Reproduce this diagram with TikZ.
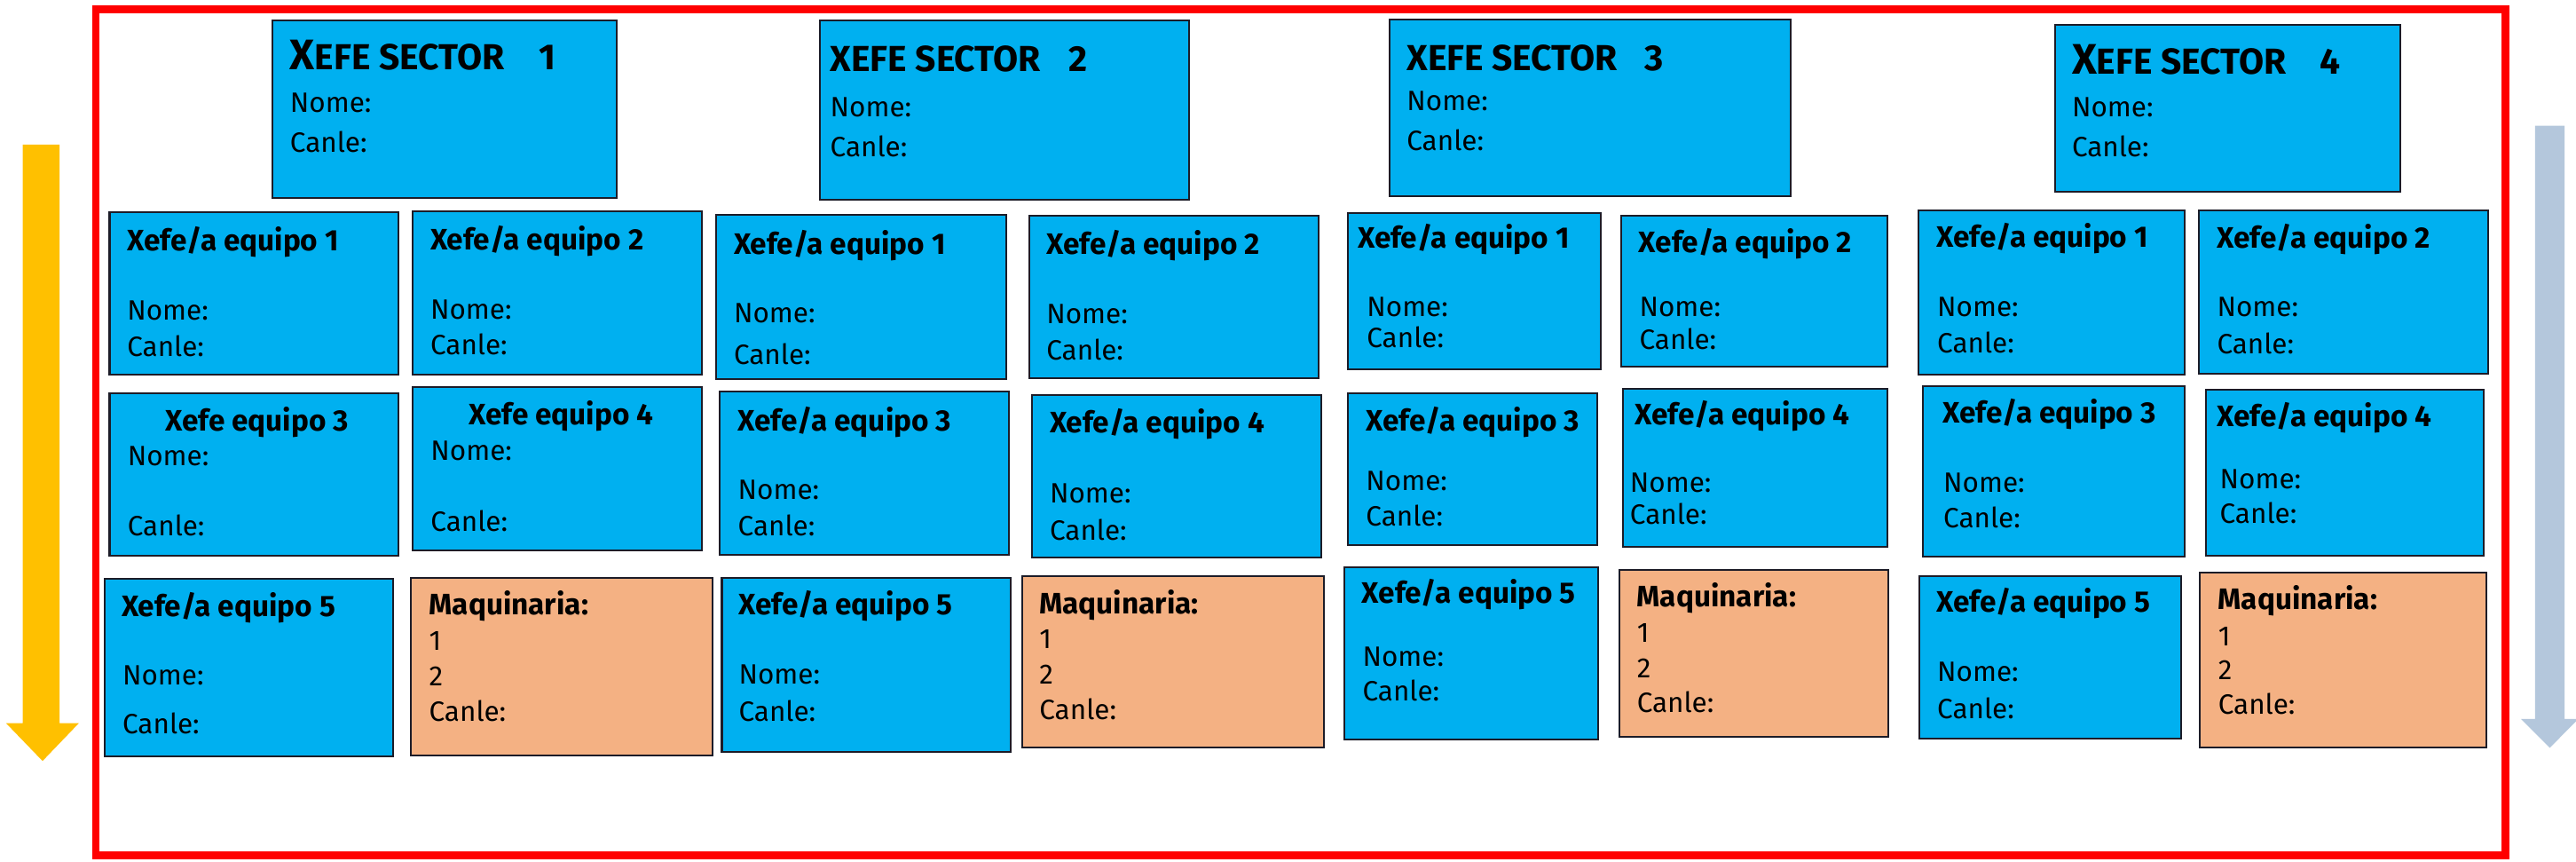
\documentclass[tikz,border=0pt]{standalone}
\usepackage{fontspec}
\setmainfont{Fira Sans}
\definecolor{boxblue}{HTML}{00B0F0}
\definecolor{boxorange}{HTML}{F4B183}
\definecolor{framered}{HTML}{FF0000}
\definecolor{arrowyellow}{HTML}{FFC000}
\definecolor{arrowgray}{HTML}{B4C7DC}
\definecolor{edgecol}{HTML}{1C1C28}
\tikzset{
  cardbox/.style={draw=edgecol,line width=1.1pt,inner sep=0pt,outer sep=0pt},
  ttl/.style={font=\fontsize{18}{20}\selectfont\bfseries,inner sep=0pt,anchor=base west},
  ttlc/.style={font=\fontsize{18}{20}\selectfont\bfseries,inner sep=0pt,anchor=base},
  txt/.style={font=\fontsize{17}{19}\selectfont,inner sep=0pt,anchor=base west},
  sec/.style={font=\fontsize{22}{24}\selectfont\bfseries,inner sep=0pt,anchor=base west},
}
\newcommand\cardat[6]{%
  \pgfmathsetmacro\cardw{#4-#2}\pgfmathsetmacro\cardh{#5-#3}%
  \node[cardbox,fill=#6,minimum width=\cardw pt,minimum height=\cardh pt] (#1) at ({(#2+#4)/2},{(#3+#5)/2}) {};}
\newcommand\lbl[5]{\node[#2] (#1) at (#3,#4) {#5};}
\newcommand\secttl[2]{\makebox[#1pt][l]{{\fontsize{26}{27}\selectfont X}{\fontsize{22}{23}\selectfont EFE SECTOR}}{\fontsize{22}{23}\selectfont #2}}
\newcommand\secttlb[2]{\makebox[#1pt][l]{XEFE SECTOR}#2}
\begin{document}
\begin{tikzpicture}[x=1pt,y=-1pt]
\useasboundingbox (0,0) rectangle (1568,524);
\fill[white] (0,0) rectangle (1568,524);
% arrows
\fill[arrowyellow] (13.8,88) -- (36.3,88) -- (36.3,440) -- (48,440) -- (25.9,463) -- (3.7,440) -- (13.8,440) -- cycle;
\fill[arrowgray] (1543,76.5) -- (1561,76.5) -- (1561,437.5) -- (1569.4,437.5) -- (1552,455) -- (1534.6,437.5) -- (1543,437.5) -- cycle;
% frame
\draw[framered,line width=4.5pt] (58.5,5.6) rectangle (1525,520.5);
% sector boxes
\cardat{s1}{166}{12.6}{375.5}{120.5}{boxblue}
\lbl{s1t}{sec}{176.4}{42.3}{\secttl{151.6}{1}}
\lbl{s1n}{txt}{176.4}{68.4}{Nome:}
\lbl{s1c}{txt}{176.4}{92.7}{Canle:}
\cardat{s2}{499}{12.6}{724}{121.5}{boxblue}
\lbl{s2t}{sec}{505.2}{43.7}{\secttlb{145}{2}}
\lbl{s2n}{txt}{505.2}{71}{Nome:}
\lbl{s2c}{txt}{505.2}{95.4}{Canle:}
\cardat{s3}{845.7}{11.7}{1090}{119.2}{boxblue}
\lbl{s3t}{sec}{856.1}{43.2}{\secttlb{145}{3}}
\lbl{s3n}{txt}{856.1}{67}{Nome:}
\lbl{s3c}{txt}{856.1}{91.5}{Canle:}
\cardat{s4}{1250.8}{15.3}{1460.8}{116.7}{boxblue}
\lbl{s4t}{sec}{1261}{45}{\secttl{151}{4}}
\lbl{s4n}{txt}{1261}{71}{Nome:}
\lbl{s4c}{txt}{1261}{95.4}{Canle:}
% row 1
\cardat{a1}{66.7}{129}{242.5}{228}{boxblue}
\lbl{a1t}{ttl}{77.2}{152.7}{Xefe/a equipo 1}
\lbl{a1n}{txt}{77.2}{194.8}{Nome:}
\lbl{a1c}{txt}{77.2}{217}{Canle:}
\cardat{a2}{251}{128.7}{427}{228}{boxblue}
\lbl{a2t}{ttl}{261.8}{152.1}{Xefe/a equipo 2}
\lbl{a2n}{txt}{261.8}{194.4}{Nome:}
\lbl{a2c}{txt}{261.8}{216}{Canle:}
\cardat{b1}{436.1}{130.7}{612.7}{230.4}{boxblue}
\lbl{b1t}{ttl}{446.5}{154.8}{Xefe/a equipo 1}
\lbl{b1n}{txt}{446.5}{196.2}{Nome:}
\lbl{b1c}{txt}{446.5}{221.7}{Canle:}
\cardat{b2}{626.6}{131.3}{802.4}{230}{boxblue}
\lbl{b2t}{ttl}{636.8}{154.8}{Xefe/a equipo 2}
\lbl{b2n}{txt}{636.8}{197}{Nome:}
\lbl{b2c}{txt}{636.8}{218.8}{Canle:}
\cardat{c1}{820.6}{129.4}{974.6}{224.6}{boxblue}
\lbl{c1t}{ttl}{826.3}{150.7}{Xefe/a equipo 1}
\lbl{c1n}{txt}{831.8}{192.8}{Nome:}
\lbl{c1c}{txt}{831.8}{211.7}{Canle:}
\cardat{c2}{987}{131.4}{1148.7}{223.3}{boxblue}
\lbl{c2t}{ttl}{997.4}{153.4}{Xefe/a equipo 2}
\lbl{c2n}{txt}{997.7}{192.3}{Nome:}
\lbl{c2c}{txt}{997.7}{212.7}{Canle:}
\cardat{d1}{1168}{127.8}{1330}{227.8}{boxblue}
\lbl{d1t}{ttl}{1178.5}{150.2}{Xefe/a equipo 1}
\lbl{d1n}{txt}{1179}{192.3}{Nome:}
\lbl{d1c}{txt}{1179}{214.7}{Canle:}
\cardat{d2}{1338.5}{128.2}{1514.5}{227.2}{boxblue}
\lbl{d2t}{ttl}{1349.3}{150.9}{Xefe/a equipo 2}
\lbl{d2n}{txt}{1349.3}{192.3}{Nome:}
\lbl{d2c}{txt}{1349.3}{215.1}{Canle:}
% row 2
\cardat{a3}{66.7}{239.3}{242.5}{338}{boxblue}
\lbl{a3t}{ttlc}{156.4}{262.3}{Xefe equipo 3}
\lbl{a3n}{txt}{77.5}{283.5}{Nome:}
\lbl{a3c}{txt}{77.5}{326.2}{Canle:}
\cardat{a4}{251}{235.7}{427}{334.7}{boxblue}
\lbl{a4t}{ttlc}{341.5}{258.3}{Xefe equipo 4}
\lbl{a4n}{txt}{262}{280}{Nome:}
\lbl{a4c}{txt}{262}{323.2}{Canle:}
\cardat{b3}{438}{238.4}{614.2}{337.6}{boxblue}
\lbl{b3t}{ttl}{449}{262.2}{Xefe/a equipo 3}
\lbl{b3n}{txt}{449}{304}{Nome:}
\lbl{b3c}{txt}{449}{326}{Canle:}
\cardat{b4}{628.3}{240.6}{804.4}{339.3}{boxblue}
\lbl{b4t}{ttl}{638.8}{263.4}{Xefe/a equipo 4}
\lbl{b4n}{txt}{638.8}{306}{Nome:}
\lbl{b4c}{txt}{638.8}{328.4}{Canle:}
\cardat{c3}{820.6}{239.5}{972.1}{331.7}{boxblue}
\lbl{c3t}{ttl}{831.3}{262.3}{Xefe/a equipo 3}
\lbl{c3n}{txt}{831.3}{298.5}{Nome:}
\lbl{c3c}{txt}{831.3}{320.1}{Canle:}
\cardat{c4}{987.7}{236.5}{1148.7}{332.7}{boxblue}
\lbl{c4t}{ttl}{994.9}{258.6}{Xefe/a equipo 4}
\lbl{c4n}{txt}{992}{299.5}{Nome:}
\lbl{c4c}{txt}{992}{318.8}{Canle:}
\cardat{d3}{1170.3}{234.7}{1330}{338.4}{boxblue}
\lbl{d3t}{ttl}{1182.3}{257.4}{Xefe/a equipo 3}
\lbl{d3n}{txt}{1182.8}{299.7}{Nome:}
\lbl{d3c}{txt}{1182.8}{321.3}{Canle:}
\cardat{d4}{1342.8}{237.3}{1511.7}{338}{boxblue}
\lbl{d4t}{ttl}{1349.3}{259.7}{Xefe/a equipo 4}
\lbl{d4n}{txt}{1351}{297.6}{Nome:}
\lbl{d4c}{txt}{1351}{318.4}{Canle:}
% row 3
\cardat{a5}{63.6}{352.4}{239.4}{460.4}{boxblue}
\lbl{a5t}{ttl}{73.8}{375}{Xefe/a equipo 5}
\lbl{a5n}{txt}{74.4}{416.7}{Nome:}
\lbl{a5c}{txt}{74.4}{446.6}{Canle:}
\cardat{am}{250}{351.4}{433.5}{459.6}{boxorange}
\lbl{amt}{ttl}{261}{374}{Maquinaria:}
\lbl{am1}{txt}{261}{395.4}{1}
\lbl{am2}{txt}{261}{417}{2}
\lbl{amc}{txt}{261}{438.7}{Canle:}
\cardat{b5}{439.4}{351.5}{615.4}{457.3}{boxblue}
\lbl{b5t}{ttl}{449.5}{374.3}{Xefe/a equipo 5}
\lbl{b5n}{txt}{449.5}{416.4}{Nome:}
\lbl{b5c}{txt}{449.5}{438.8}{Canle:}
\cardat{bm}{622.4}{350.4}{806.1}{454.6}{boxorange}
\lbl{bmt}{ttl}{632.5}{373.5}{Maquinaria:}
\lbl{bm1}{txt}{632.5}{394.6}{1}
\lbl{bm2}{txt}{632.5}{415.9}{2}
\lbl{bmc}{txt}{632.5}{438}{Canle:}
\cardat{c5}{818.4}{345.4}{972.9}{449.8}{boxblue}
\lbl{c5t}{ttl}{828.8}{367.2}{Xefe/a equipo 5}
\lbl{c5n}{txt}{829.2}{405.6}{Nome:}
\lbl{c5c}{txt}{829.2}{426.2}{Canle:}
\cardat{cm}{985.5}{346.6}{1149.4}{448.5}{boxorange}
\lbl{cmt}{ttl}{996.2}{369.2}{Maquinaria:}
\lbl{cm1}{txt}{996.2}{390.7}{1}
\lbl{cm2}{txt}{996.2}{412.3}{2}
\lbl{cmc}{txt}{996.2}{433.6}{Canle:}
\cardat{d5}{1168.5}{350.6}{1327.8}{449.5}{boxblue}
\lbl{d5t}{ttl}{1178.5}{372.4}{Xefe/a equipo 5}
\lbl{d5n}{txt}{1179}{414.7}{Nome:}
\lbl{d5c}{txt}{1179}{437.3}{Canle:}
\cardat{dm}{1339}{348.2}{1513.3}{454.6}{boxorange}
\lbl{dmt}{ttl}{1350}{371}{Maquinaria:}
\lbl{dm1}{txt}{1350}{392.7}{1}
\lbl{dm2}{txt}{1350}{413.7}{2}
\lbl{dmc}{txt}{1350}{434.8}{Canle:}
\end{tikzpicture}
\end{document}
